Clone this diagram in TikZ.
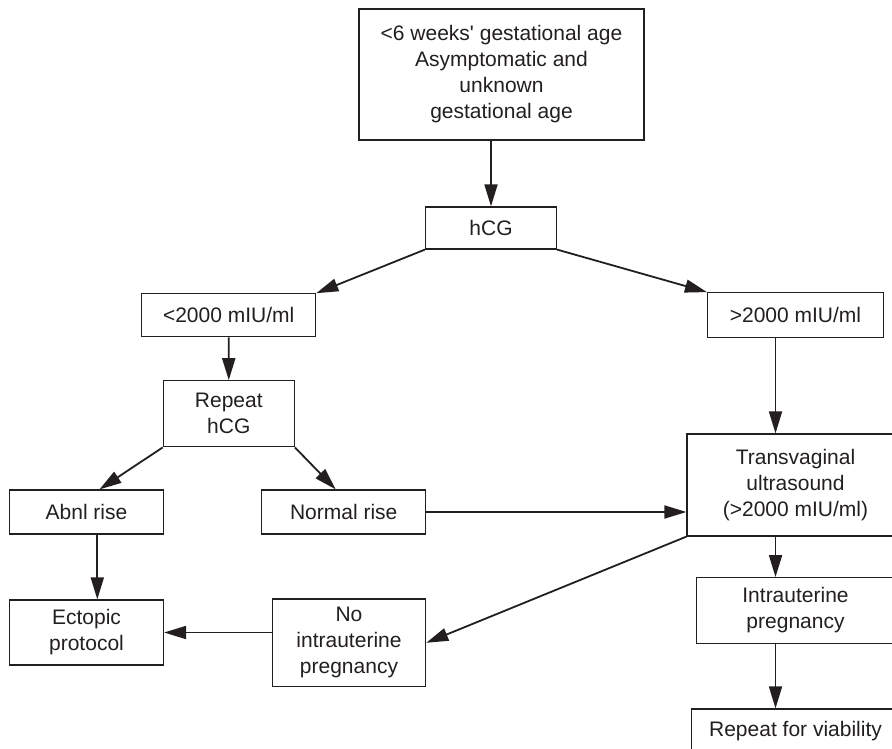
\documentclass[tikz,border=0pt]{standalone}
\usepackage{fontspec}
\newfontfamily\chartfont{Liberation Sans}
\usetikzlibrary{arrows.meta}
\definecolor{ink}{HTML}{231F20}

\begin{document}
\begin{tikzpicture}[x=0.5pt, y=-0.5pt, every node/.style={align=center}]
\tikzset{
  box/.style={draw=ink, line width=0.6pt, inner sep=0pt, text=ink, font=\chartfont\fontsize{10.5}{13}\selectfont},
  flow/.style={draw=ink, line width=0.9pt, -{Triangle[length=11pt,width=6.5pt]}}
}
\clip (0,0) rectangle (892,748);
\fill[white] (0,0) rectangle (892,748);

\node[box, minimum width=142.5pt, minimum height=65.5pt] (start) at (501.5,74.5) {<6 weeks' gestational age\\Asymptomatic and\\unknown\\gestational age};
\node[box, minimum width=65.5pt, minimum height=21pt] (hcg) at (491,228) {hCG};
\node[box, minimum width=87pt, minimum height=21.5pt] (low) at (228.7,315.3) {<2000 mIU/ml};
\node[box, minimum width=88pt, minimum height=22.5pt] (high) at (795.5,315.2) {>2000 mIU/ml};
\node[box, minimum width=65.5pt, minimum height=33pt] (repeat) at (228.8,413.8) {Repeat\\hCG};
\node[box, minimum width=77pt, minimum height=22pt] (abnl) at (86.5,512) {Abnl rise};
\node[box, minimum width=82pt, minimum height=22pt] (normal) at (343.7,512) {Normal rise};
\node[box, minimum width=77pt, minimum height=32.5pt] (ectopic) at (86.5,632.5) {Ectopic\\protocol};
\node[box, minimum width=76.7pt, minimum height=43.8pt] (noiup) at (349,642.8) {No\\intrauterine\\pregnancy};
\node[box, minimum width=108.5pt, minimum height=51pt] (tvus) at (795.5,485) {Transvaginal\\ultrasound\\(>2000 mIU/ml)};
\node[box, minimum width=99pt, minimum height=32.8pt] (iup) at (795.5,610.5) {Intrauterine\\pregnancy};
\node[box, minimum width=104pt, minimum height=22.5pt] (viable) at (795.5,731.5) {Repeat for viability};

\draw[flow] (start.south -| hcg.north) -- (hcg.north);
\draw[flow] (hcg.south west) -- (low.north east);
\draw[flow] (hcg.south east) -- (high.north west);

\draw[flow] (low) -- (repeat);
\draw[flow] (repeat.south west) -- ([xshift=6.5pt]abnl.north);
\draw[flow] (repeat.south east) -- ([xshift=-4pt]normal.north);
\draw[flow] ([xshift=5.4pt]abnl.south) -- ([xshift=5.4pt]ectopic.north);
\draw[flow] (normal.east) -- (normal.east -| tvus.west);

\draw[flow] ([xshift=-10pt]high.south) -- ([xshift=-10pt]tvus.north);
\draw[flow] (tvus.south west) -- (noiup.east);
\draw[flow] (ectopic.east -| noiup.west) -- (ectopic.east);
\draw[flow] ([xshift=-10pt]tvus.south) -- ([xshift=-10pt]iup.north);
\draw[flow] ([xshift=-10pt]iup.south) -- ([xshift=-10pt]viable.north);
\end{tikzpicture}
\end{document}
